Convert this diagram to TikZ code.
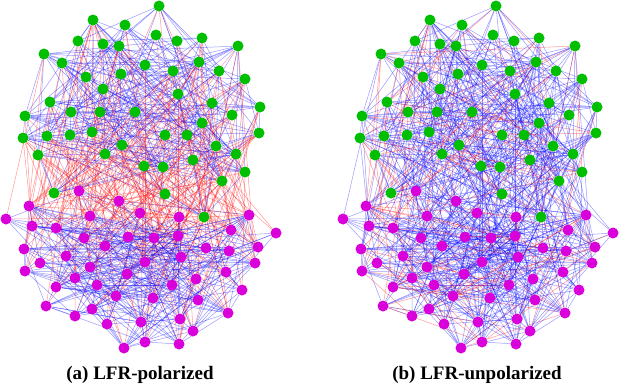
\documentclass[tikz,border=0pt]{standalone}
\usepackage{fontspec}
\setmainfont{Liberation Serif}
\usetikzlibrary{backgrounds}
\definecolor{grpgreen}{RGB}{0,190,0}
\definecolor{grpmag}{RGB}{218,0,218}
\tikzset{
  gnode/.style={circle, fill=grpgreen, inner sep=0pt, minimum size=11pt},
  mnode/.style={circle, fill=grpmag, inner sep=0pt, minimum size=11pt},
  posedge/.style={blue, line width=0.5pt, draw opacity=0.4},
  negedge/.style={red, line width=0.5pt, draw opacity=0.4},
  caption/.style={font=\fontsize{19}{22}\selectfont\bfseries}
}
\begin{document}
\begin{tikzpicture}[x=1pt, y=-1pt]
  \useasboundingbox (0,0) rectangle (620,386);
  % community 1 (green), left copy a, right copy b
  \foreach \x/\y [count=\k] in {93/20,125/25,78/41,103/44,119/46,44/54,62/63,86/77,121/74,145/65,
      103/89,50/102,71/112,100/112,135/112,25/116,23/138,47/136,70/135,92/132,
      122/145,38/155,105/154,144/166,159/6,156/35,177/41,202/38,238/46,173/71,
      199/62,219/71,245/79,178/94,212/103,260/107,232/115,202/123,165/135,187/135,
      259/133,216/146,236/154,193/160,163/167,245/172,222/181,54/193,165/194,204/217}{
    \node[gnode] (a\k) at (\x,\y) {};
    \node[gnode] (b\k) at (\x+337,\y) {};
  }
  % community 2 (magenta)
  \foreach \x/\y [count=\k from 51] in {79/191,29/206,119/201,6/219,32/226,56/228,90/216,140/213,84/238,105/246,
      128/237,24/249,40/263,66/256,90/267,25/271,127/274,145/262,75/278,97/285,
      56/287,116/296,46/306,75/316,92/309,107/324,141/322,124/348,145/342,179/217,
      249/215,276/233,231/230,154/238,178/236,206/248,229/251,258/247,255/263,181/257,
      226/272,196/279,172/285,242/290,153/298,198/300,228/313,180/319,193/331,179/344}{
    \node[mnode] (a\k) at (\x,\y) {};
    \node[mnode] (b\k) at (\x+337,\y) {};
  }
  % edges: same graph, signs by community (a) or at random (b)
  \pgfmathsetseed{7}
  \begin{scope}[on background layer]
    \foreach \i in {1,...,99}{
      \pgfmathtruncatemacro{\inext}{\i+1}
      \foreach \j in {\inext,...,100}{
        \pgfmathtruncatemacro{\same}{((\i<51)&&(\j<51))||((\i>50)&&(\j>50))}
        \pgfmathsetmacro{\prob}{\same ? 0.2 : 0.075}
        \pgfmathtruncatemacro{\hit}{rnd<\prob}
        \ifnum\hit=1
          \pgfmathtruncatemacro{\flip}{rnd<0.2}
          \ifnum\same=1 \draw[posedge] (a\i) -- (a\j); \else \draw[negedge] (a\i) -- (a\j); \fi
          \ifnum\flip=1 \draw[negedge] (b\i) -- (b\j); \else \draw[posedge] (b\i) -- (b\j); \fi
        \fi
      }
    }
  \end{scope}
  \node[caption] (capa) at (140,375) {(a) LFR-polarized};
  \node[caption] (capb) at (477,375) {(b) LFR-unpolarized};
\end{tikzpicture}
\end{document}
